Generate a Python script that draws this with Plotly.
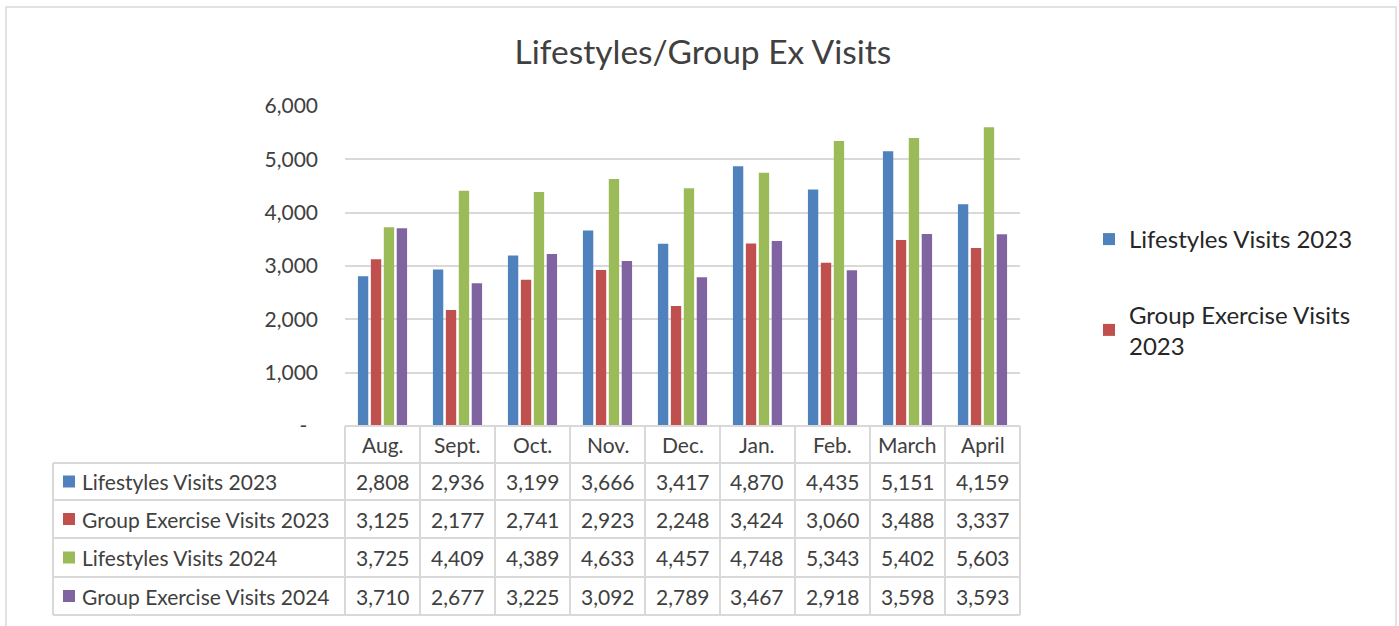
import plotly.graph_objects as go

W, H = 1399, 626

months = ["Aug.", "Sept.", "Oct.", "Nov.", "Dec.", "Jan.", "Feb.", "March", "April"]
series_names = ["Lifestyles Visits 2023", "Group Exercise Visits 2023",
                "Lifestyles Visits 2024", "Group Exercise Visits 2024"]
lifestyles_2023 = [2808, 2936, 3199, 3666, 3417, 4870, 4435, 5151, 4159]
group_ex_2023 = [3125, 2177, 2741, 2923, 2248, 3424, 3060, 3488, 3337]
lifestyles_2024 = [3725, 4409, 4389, 4633, 4457, 4748, 5343, 5402, 5603]
group_ex_2024 = [3710, 2677, 3225, 3092, 2789, 3467, 2918, 3598, 3593]
y_tick_vals = [0, 1000, 2000, 3000, 4000, 5000, 6000]
y_tick_text = ["-\u00a0\u00a0", "1,000", "2,000", "3,000", "4,000", "5,000", "6,000"]

colors = ["#4F81BD", "#C0504D", "#9BBB59", "#8064A2"]
all_series = [lifestyles_2023, group_ex_2023, lifestyles_2024, group_ex_2024]

FONT = "Lato"
TXT = "#404040"
GRID = "#D9D9D9"


def px(x):
    return x / W


def py(y):
    return 1 - y / H


# plot area (pixels)
PL, PR, PT, PB = 345, 1020, 106, 426
col_w = (PR - PL) / len(months)

fig = go.Figure()
legend_labels = ["Lifestyles Visits 2023", "Group Exercise Visits<br>2023", None, None]
for i, (name, vals) in enumerate(zip(series_names, all_series)):
    fig.add_trace(go.Bar(
        x=list(range(len(months))), y=vals, name=legend_labels[i] or name,
        marker=dict(color=colors[i], line=dict(width=0)),
        showlegend=legend_labels[i] is not None,
        legendgroup=f"g{i}",
    ))

shapes = []
annotations = []

# outer chart border
shapes.append(dict(type="rect", xref="paper", yref="paper",
                   x0=px(6), x1=px(1396), y0=py(7), y1=-0.05,
                   line=dict(color=GRID, width=1.5), fillcolor="rgba(0,0,0,0)"))

# table geometry
row_lines = [426, 463, 500, 538, 577, 615]
LABEL_L = 53
lc = dict(color=GRID, width=2)
shapes.append(dict(type="line", xref="paper", yref="paper", x0=px(PL), x1=px(PR),
                   y0=py(row_lines[0]), y1=py(row_lines[0]), line=lc))
for yl in row_lines[1:]:
    shapes.append(dict(type="line", xref="paper", yref="paper", x0=px(LABEL_L), x1=px(PR),
                       y0=py(yl), y1=py(yl), line=lc))
for k in range(len(months) + 1):
    xl = PL + k * col_w
    shapes.append(dict(type="line", xref="paper", yref="paper", x0=px(xl), x1=px(xl),
                       y0=py(row_lines[0]), y1=py(row_lines[-1]), line=lc))
shapes.append(dict(type="line", xref="paper", yref="paper", x0=px(LABEL_L), x1=px(LABEL_L),
                   y0=py(row_lines[1]), y1=py(row_lines[-1]), line=lc))

TFS = 21
for k, m in enumerate(months):
    annotations.append(dict(x=px(PL + (k + 0.5) * col_w), y=py((row_lines[0] + row_lines[1]) / 2),
                            xref="paper", yref="paper", text=m, showarrow=False,
                            font=dict(family=FONT, size=TFS, color=TXT),
                            xanchor="center", yanchor="middle"))
for r, (name, vals) in enumerate(zip(series_names, all_series)):
    yc = (row_lines[r + 1] + row_lines[r + 2]) / 2
    shapes.append(dict(type="rect", xref="paper", yref="paper",
                       x0=px(63), x1=px(75), y0=py(yc - 6), y1=py(yc + 6),
                       fillcolor=colors[r], line=dict(width=0)))
    annotations.append(dict(x=px(80), y=py(yc), xref="paper", yref="paper", text=name,
                            showarrow=False, font=dict(family=FONT, size=TFS, color=TXT),
                            xanchor="left", yanchor="middle"))
    for k, v in enumerate(vals):
        annotations.append(dict(x=px(PL + (k + 0.5) * col_w), y=py(yc),
                                xref="paper", yref="paper", text=f"{v:,}", showarrow=False,
                                font=dict(family=FONT, size=TFS, color=TXT),
                                xanchor="center", yanchor="middle"))

fig.update_layout(
    width=W, height=H,
    margin=dict(l=0, r=0, t=0, b=0, pad=0, autoexpand=False),
    paper_bgcolor="white", plot_bgcolor="white",
    title=dict(text="Lifestyles/Group Ex Visits", x=0.5025, xanchor="center",
               y=py(52), yanchor="middle", automargin=False,
               font=dict(family=FONT, size=33.5, color=TXT)),
    barmode="group", bargap=0.31, bargroupgap=0.2,
    xaxis=dict(domain=[px(PL), px(PR)], range=[-0.5, len(months) - 0.5],
               showticklabels=False, showgrid=False, zeroline=False, showline=False,
               fixedrange=True, automargin=False),
    yaxis=dict(domain=[py(PB), py(PT)], range=[0, 6000],
               tickvals=y_tick_vals, ticktext=y_tick_text,
               showgrid=True, gridcolor=GRID, gridwidth=1.5,
               zeroline=False, showline=False, ticks="", automargin=False,
               ticklabelstandoff=26,
               tickfont=dict(family=FONT, size=21, color=TXT)),
    legend=dict(x=px(1089), y=py(217), xanchor="left", yanchor="top",
                font=dict(family=FONT, size=24, color="#262626"),
                traceorder="grouped", tracegroupgap=41,
                itemwidth=30, bgcolor="rgba(0,0,0,0)"),
    shapes=shapes, annotations=annotations,
    showlegend=True,
)

post = (
    "document.documentElement.style.margin='0';"
    "document.body.style.margin='0';document.body.style.overflow='hidden';"
    "var gd=document.getElementById('{plot_id}');"
    "gd.style.position='fixed';gd.style.top='0px';gd.style.left='0px';"
)
fig.write_html("out.html", config={"displayModeBar": False}, post_script=post)
